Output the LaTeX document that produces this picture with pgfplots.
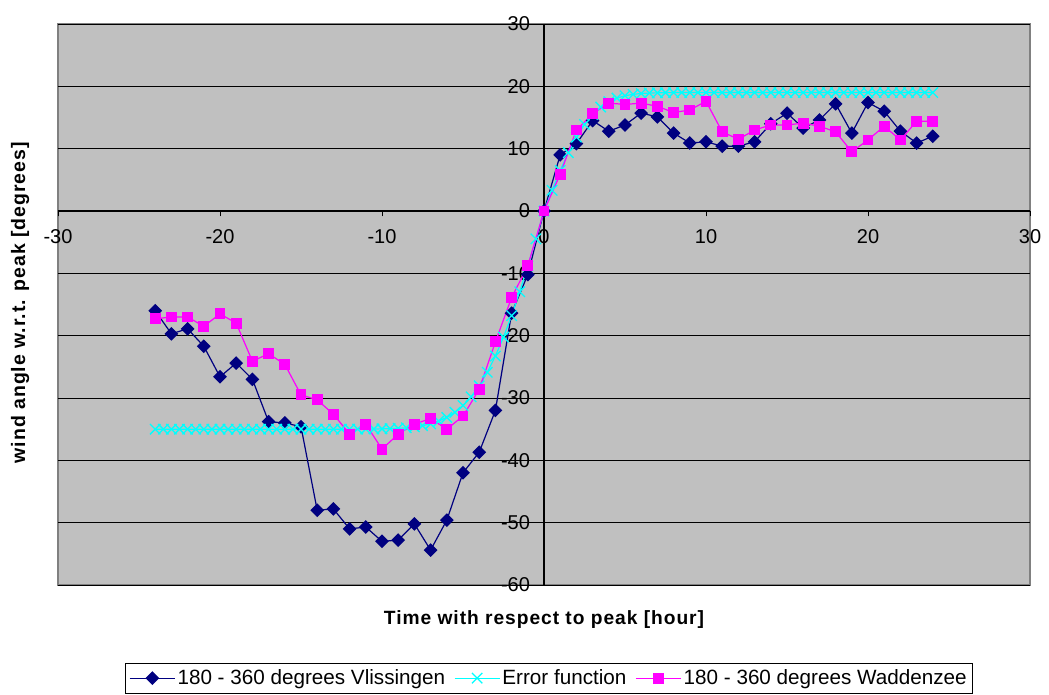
\documentclass[border=0pt]{standalone}
\usepackage{fontspec}
\setmainfont{Liberation Sans}
\newfontfamily\labelfont[LetterSpace=5]{Liberation Sans}
\usepackage{pgfplots}
\pgfplotsset{compat=1.18}
\definecolor{bgGray}{HTML}{C0C0C0}
\definecolor{borderGray}{HTML}{808080}
\definecolor{navyS}{HTML}{000080}
\definecolor{cyanS}{HTML}{00FFFF}
\definecolor{magS}{HTML}{FF00FF}
\begin{document}
\begin{tikzpicture}
\begin{axis}[
  name=ax,
  scale only axis,
  width=729pt, height=420.75pt,
  xmin=-30, xmax=30, ymin=-60, ymax=30,
  axis lines=middle,
  every inner x axis line/.append style={-},
  every inner y axis line/.append style={-},
  axis line style={black, line width=0.8pt},
  hide obscured x ticks=false,
  hide obscured y ticks=false,
  axis background/.style={fill=bgGray, draw=borderGray, line width=0.8pt},
  xtick={-30,-20,...,30},
  ytick={-60,-50,...,30},
  tick align=outside,
  major tick length=4pt,
  tick style={black, line width=0.7pt},
  ymajorgrids,
  grid style={black, line width=0.7pt},
  /pgf/number format/assume math mode=true,
  ticklabel style={font=\fontsize{15}{15}\selectfont},
  xticklabel style={anchor=north, yshift=-6pt},
  yticklabel style={anchor=east, xshift=-3pt},
  every axis x label/.style={at={(axis description cs:0.5,-0.0624)}, anchor=center},
  every axis y label/.style={at={(axis description cs:-0.039,0.503)}, anchor=center, rotate=90},
  xlabel={\labelfont\bfseries\fontsize{14.4}{14.4}\selectfont Time with respect to peak [hour]},
  ylabel={\labelfont\bfseries\fontsize{14.6}{14.6}\selectfont wind angle w.r.t. peak [degrees]},
  legend columns=3,
  legend style={at={(0.505,-0.166)}, anchor=center, draw=black, fill=white,
    font=\fontsize{15.5}{16}\selectfont, inner xsep=2.5pt, inner ysep=3.5pt,
    nodes={inner sep=1.5pt},
    /tikz/every even column/.append style={column sep=5pt}},
  legend image code/.code={\draw[mark repeat=2,mark phase=2] plot coordinates {(0pt,0pt)(17pt,0pt)(34pt,0pt)};},
]
\addplot[color=navyS, line width=0.9pt, mark=square*, mark size=3.2pt,
  mark options={rotate=45, fill=navyS, draw=navyS}]
  coordinates {
(-24,-16.0) (-23,-19.7) (-22,-18.9) (-21,-21.7) (-20,-26.6) (-19,-24.4) (-18,-27.0)
(-17,-33.8) (-16,-34.0) (-15,-34.6) (-14,-48.0) (-13,-47.8) (-12,-51.0) (-11,-50.7)
(-10,-53.0) (-9,-52.8) (-8,-50.2) (-7,-54.4) (-6,-49.6) (-5,-42.0) (-4,-38.7)
(-3,-32.0) (-2,-16.4) (-1,-10.2) (0,0) (1,9.0) (2,10.8) (3,14.5) (4,12.8) (5,13.8)
(6,15.7) (7,15.1) (8,12.5) (9,10.9) (10,11.1) (11,10.4) (12,10.4) (13,11.1) (14,14.0)
(15,15.7) (16,13.3) (17,14.6) (18,17.2) (19,12.5) (20,17.4) (21,16.0) (22,12.8)
(23,10.9) (24,12.0)
};
\addlegendentry{180 - 360 degrees Vlissingen}
\addplot[color=cyanS, line width=0.9pt, mark=x, mark size=5.5pt, mark options={line width=1pt, solid}]
  coordinates {
(-24,-35) (-23.5,-35) (-23,-35) (-22.5,-35) (-22,-35) (-21.5,-35) (-21,-35) (-20.5,-35)
(-20,-35) (-19.5,-35) (-19,-35) (-18.5,-35) (-18,-35) (-17.5,-35) (-17,-35) (-16.5,-35)
(-16,-35) (-15.5,-35) (-15,-35) (-14.5,-35) (-14,-35) (-13.5,-35) (-13,-35) (-12.5,-35)
(-12,-35) (-11.5,-34.99) (-11,-34.98) (-10.5,-34.97) (-10,-34.95) (-9.5,-34.92)
(-9,-34.87) (-8.5,-34.78) (-8,-34.64) (-7.5,-34.44) (-7,-34.14) (-6.5,-33.71)
(-6,-33.11) (-5.5,-32.30) (-5,-31.21) (-4.5,-29.81) (-4,-28.05) (-3.5,-25.88)
(-3,-23.27) (-2.5,-20.23) (-2,-16.79) (-1.5,-12.95) (-1,-8.83) (-0.5,-4.47) (0,0)
(0.5,3.32) (1,6.49) (1.5,9.36) (2,11.84) (2.5,13.88) (3,15.48) (3.5,16.68) (4,17.54)
(4.5,18.12) (5,18.48) (5.5,18.71) (6,18.85) (6.5,18.92) (7,18.96) (7.5,18.98)
(8,19) (8.5,19) (9,19) (9.5,19) (10,19) (10.5,19) (11,19) (11.5,19) (12,19) (12.5,19)
(13,19) (13.5,19) (14,19) (14.5,19) (15,19) (15.5,19) (16,19) (16.5,19) (17,19) (17.5,19)
(18,19) (18.5,19) (19,19) (19.5,19) (20,19) (20.5,19) (21,19) (21.5,19) (22,19) (22.5,19)
(23,19) (23.5,19) (24,19)
};
\addlegendentry{Error function}
\addplot[color=magS, line width=0.9pt, mark=square*, mark size=3.6pt,
  mark options={fill=magS, draw=magS}]
  coordinates {
(-24,-17.3) (-23,-17.0) (-22,-17.0) (-21,-18.5) (-20,-16.5) (-19,-18.0) (-18,-24.1)
(-17,-22.9) (-16,-24.6) (-15,-29.5) (-14,-30.3) (-13,-32.6) (-12,-35.8) (-11,-34.2)
(-10,-38.2) (-9,-35.8) (-8,-34.2) (-7,-33.3) (-6,-35.0) (-5,-32.9) (-4,-28.6)
(-3,-21.0) (-2,-13.9) (-1,-8.8) (0,0) (1,5.9) (2,13.0) (3,15.6) (4,17.3) (5,17.1)
(6,17.3) (7,16.8) (8,15.8) (9,16.2) (10,17.6) (11,12.7) (12,11.5) (13,13.0) (14,13.8)
(15,13.8) (16,14.1) (17,13.6) (18,12.7) (19,9.5) (20,11.4) (21,13.6) (22,11.4)
(23,14.4) (24,14.4)
};
\addlegendentry{180 - 360 degrees Waddenzee}
\end{axis}
\pgfresetboundingbox
\path[use as bounding box] ([shift={(-43.5pt,-82.5pt)}]ax.south west) rectangle ([shift={(14.25pt,18pt)}]ax.north east);
\end{tikzpicture}
\end{document}
